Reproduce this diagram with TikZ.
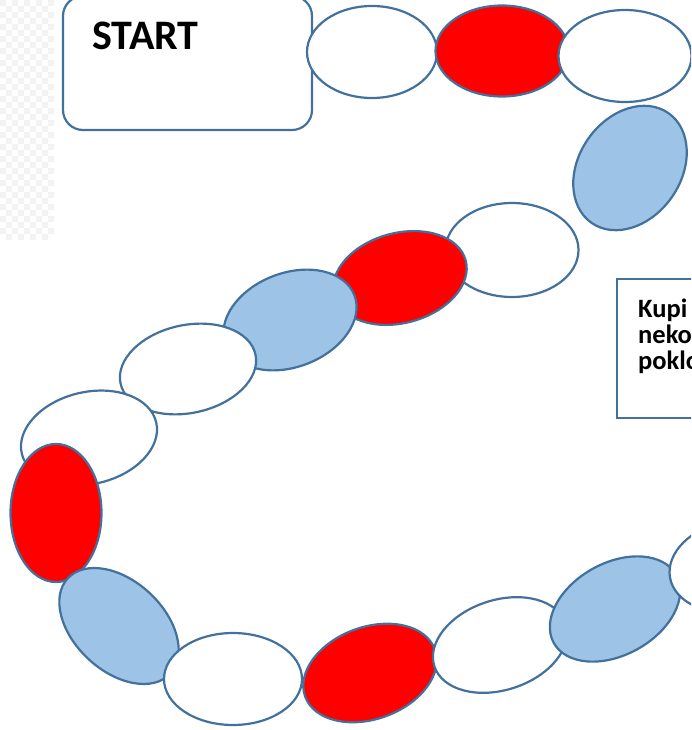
\documentclass[tikz,border=0pt]{standalone}
\usepackage{fontspec}
\setmainfont{Carlito}
\usetikzlibrary{shapes.geometric}
\definecolor{edgeblue}{HTML}{41719C}
\definecolor{lightblue}{HTML}{9DC3E6}
\definecolor{checker}{HTML}{F3F3F3}
\tikzset{
  field/.style={ellipse, draw=edgeblue, line width=2.2pt, inner sep=0pt, outer sep=0pt},
  whitef/.style={field, fill=white},
  redf/.style={field, fill=red},
  bluef/.style={field, fill=lightblue},
  startbox/.style={draw=edgeblue, line width=2.2pt, rounded corners=20pt, fill=white, inner sep=0pt},
  infobox/.style={draw=edgeblue, line width=2.2pt, fill=white, inner sep=0pt},
  infotext/.style={font=\bfseries\fontsize{26.5}{30}\selectfont, anchor=base west, inner sep=0pt}
}
\begin{document}
\begin{tikzpicture}[x=1pt,y=-1pt]
\useasboundingbox (0,0) rectangle (691,730);
\begin{scope}
\clip (0,0) rectangle (691,730);
% faint checker background
\foreach \i in {0,...,8}{
  \foreach \j in {0,...,39}{
    \pgfmathtruncatemacro{\cpar}{mod(\i+\j,2)}
    \ifnum\cpar=0 \fill[checker] (\i*6,\j*6) rectangle ++(6,6);\fi
  }
}
% start box
\node[startbox, minimum width=249pt, minimum height=134pt] (start) at (187.5,63) {};
\node[font=\bfseries\fontsize{42}{50}\selectfont, anchor=base west, inner sep=0pt] (starttxt) at (92,50) {START};
% info box
\node[infobox, minimum width=160pt, minimum height=139pt, anchor=north west] (info) at (616,278) {};
\node[infotext] (l1) at (638,317) {Kupi};
\node[infotext] (l2) at (638,343) {nekoliko};
\node[infotext] (l3) at (638,369) {poklon};
% path fields
\node[whitef, minimum width=130pt, minimum height=92pt] (e1) at (372,52) {};
\node[redf, minimum width=133pt, minimum height=91pt] (e2) at (502,51) {};
\node[whitef, minimum width=133pt, minimum height=92pt] (e3) at (625,56) {};
\node[bluef, minimum width=134pt, minimum height=102pt, rotate=55] (e4) at (630,168) {};
\node[whitef, minimum width=133pt, minimum height=94pt] (e5) at (512,250) {};
\node[redf, minimum width=136pt, minimum height=90pt, rotate=15] (e6) at (400,278) {};
\node[bluef, minimum width=138pt, minimum height=94pt, rotate=21] (e7) at (290,320) {};
\node[whitef, minimum width=138pt, minimum height=88pt, rotate=12] (e8) at (188,369) {};
\node[whitef, minimum width=138pt, minimum height=92pt, rotate=13] (e9) at (89,438) {};
\node[redf, minimum width=91pt, minimum height=138pt] (e10) at (56,513) {};
\node[bluef, minimum width=140pt, minimum height=90pt, rotate=-43] (e11) at (119,626) {};
\node[whitef, minimum width=138pt, minimum height=92pt] (e12) at (233,679) {};
\node[redf, minimum width=138pt, minimum height=92pt, rotate=20] (e13) at (370,673) {};
\node[whitef, minimum width=138pt, minimum height=90pt, rotate=18] (e14) at (500,645) {};
\node[bluef, minimum width=140pt, minimum height=92pt, rotate=29] (e15) at (615,609) {};
\node[whitef, minimum width=134pt, minimum height=92pt, rotate=10] (e16) at (736,566) {};
\end{scope}
\end{tikzpicture}
\end{document}
